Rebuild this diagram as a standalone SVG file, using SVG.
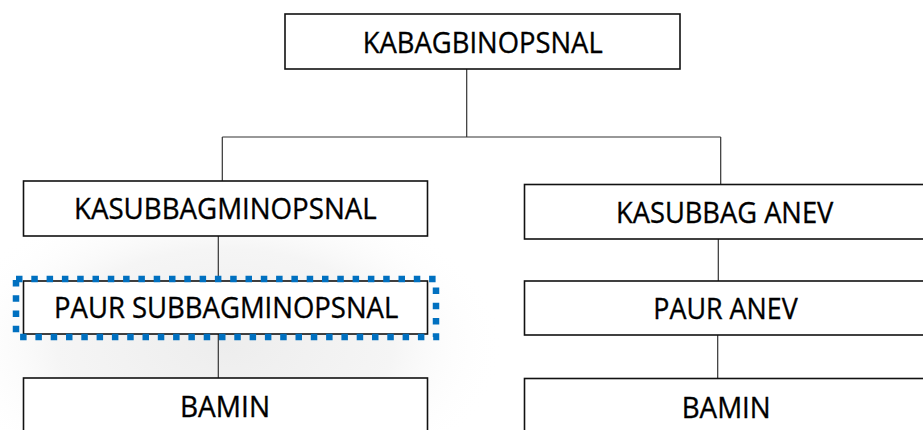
<svg xmlns="http://www.w3.org/2000/svg" width="923" height="430" viewBox="0 0 923 430">
<defs>
<radialGradient id="glow" cx="0.5" cy="0.5" r="0.5">
<stop offset="0" stop-color="#ededed"/>
<stop offset="0.6" stop-color="#f5f5f5"/>
<stop offset="1" stop-color="#ffffff" stop-opacity="0"/>
</radialGradient>
</defs>
<style>
.box{fill:#ffffff;stroke:#111111;stroke-width:1.6}
.lbl{font-family:"Open Sans","Noto Sans","Liberation Sans",sans-serif;font-size:29px;fill:#000000;stroke:#000000;stroke-width:0.35}
.con{stroke:#333333;stroke-width:1.2;fill:none}
.sel{fill:none;stroke:#0070C0;stroke-width:6.5;stroke-dasharray:6.5 8.8}
</style>
<rect width="923" height="430" fill="#ffffff"/>
<ellipse cx="225" cy="345" rx="280" ry="160" fill="url(#glow)"/>
<g id="connectors">
<line class="con" x1="466.7" y1="69" x2="466.7" y2="137"/>
<line class="con" x1="222.3" y1="137" x2="720.7" y2="137"/>
<line class="con" x1="222.3" y1="137" x2="222.3" y2="181"/>
<line class="con" x1="720.7" y1="137" x2="720.7" y2="184.5"/>
<line class="con" x1="218.3" y1="236" x2="218.3" y2="281"/>
<line class="con" x1="218.3" y1="334" x2="218.3" y2="378"/>
<line class="con" x1="718.3" y1="239" x2="718.3" y2="281"/>
<line class="con" x1="717.7" y1="335" x2="717.7" y2="378.5"/>
</g>
<g id="kabag">
<rect class="box" x="285" y="14" width="395" height="55"/>
<text class="lbl" x="362.7" y="53.3" textLength="240" lengthAdjust="spacingAndGlyphs">KABAGBINOPSNAL</text>
</g>
<g id="kasub-minops">
<rect class="box" x="23.5" y="181" width="404" height="55"/>
<text class="lbl" x="74" y="219" textLength="302.7" lengthAdjust="spacingAndGlyphs">KASUBBAGMINOPSNAL</text>
</g>
<g id="kasub-anev">
<rect class="box" x="524.5" y="184.5" width="405" height="54.5"/>
<text class="lbl" x="616" y="223.3" textLength="217.3" lengthAdjust="spacingAndGlyphs">KASUBBAG ANEV</text>
</g>
<g id="paur-minops">
<rect class="box" x="23.5" y="281" width="404" height="53"/>
<rect class="sel" x="16" y="279" width="420" height="58"/>
<text class="lbl" x="54" y="318.3" textLength="344.3" lengthAdjust="spacingAndGlyphs">PAUR SUBBAGMINOPSNAL</text>
</g>
<g id="paur-anev">
<rect class="box" x="524.5" y="281" width="405" height="54"/>
<text class="lbl" x="653.3" y="319.3" textLength="144.4" lengthAdjust="spacingAndGlyphs">PAUR ANEV</text>
</g>
<g id="bamin-left">
<rect class="box" x="23.5" y="378" width="404" height="60"/>
<text class="lbl" x="180" y="416.7" textLength="90" lengthAdjust="spacingAndGlyphs">BAMIN</text>
</g>
<g id="bamin-right">
<rect class="box" x="524.5" y="378.5" width="405" height="60"/>
<text class="lbl" x="681.7" y="418.3" textLength="89" lengthAdjust="spacingAndGlyphs">BAMIN</text>
</g>
</svg>
